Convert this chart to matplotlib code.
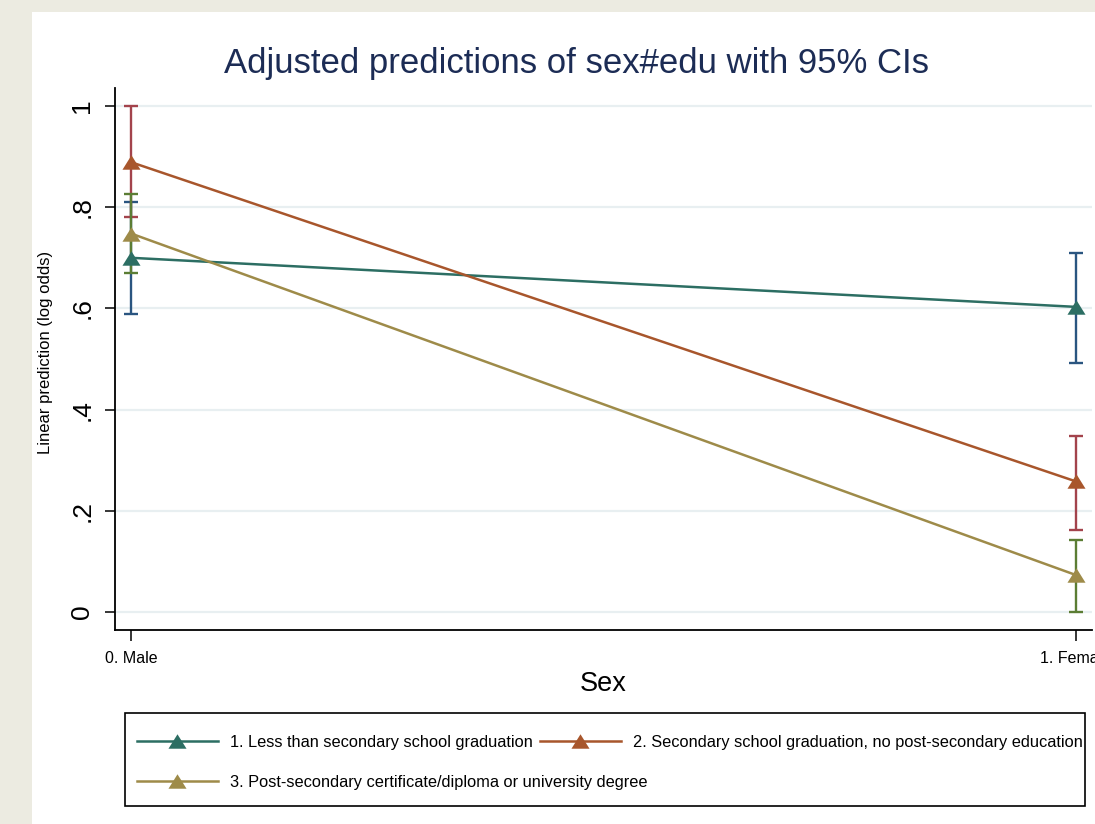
import numpy as np
import matplotlib
import matplotlib.pyplot as plt
from matplotlib.lines import Line2D
from matplotlib.patches import Rectangle

matplotlib.use('Agg')
plt.rcParams['font.family'] = ['Liberation Sans', 'DejaVu Sans']

# data
sex_labels = ['0. Male', '1. Female']
edu_labels = [
    '1. Less than secondary school graduation',
    '2. Secondary school graduation, no post-secondary education',
    '3. Post-secondary certificate/diploma or university degree',
]
pred = [
    [0.70, 0.603],   # edu 1
    [0.889, 0.258],  # edu 2
    [0.748, 0.073],  # edu 3
]
ci_low = [
    [0.589, 0.492],
    [0.780, 0.162],
    [0.670, 0.000],
]
ci_high = [
    [0.810, 0.709],
    [1.000, 0.348],
    [0.826, 0.142],
]
yticks = [0, 0.2, 0.4, 0.6, 0.8, 1.0]
ytick_labels = ['0', '.2', '.4', '.6', '.8', '1']

line_colors = ['#2c6e63', '#a8562c', '#9e8b49']
ci_colors = ['#2a5580', '#a3434c', '#5b7d34']

# squat triangle like stata's
tri = [(-1, -0.8), (1, -0.8), (0, 0.8), (-1, -0.8)]

W, H = 1095, 824
fig = plt.figure(figsize=(W / 100, H / 100), dpi=100)
fig.patch.set_facecolor('#ecebe1')
fig.add_artist(Rectangle((32 / W, 0), 1, 1 - 12 / H, transform=fig.transFigure,
                         facecolor='white', edgecolor='none', zorder=0))


def px(x0, y0, x1, y1):
    return [x0 / W, 1 - y1 / H, (x1 - x0) / W, (y1 - y0) / H]


ax = fig.add_axes(px(115, 88, 1092, 630))
ax.set_facecolor('none')
x = np.arange(len(sex_labels))

for i in range(3):
    lo = np.array(ci_low[i])
    hi = np.array(ci_high[i])
    mid = (lo + hi) / 2
    ax.errorbar(x, mid, yerr=[mid - lo, hi - mid], fmt='none', ecolor=ci_colors[i],
                elinewidth=1.7, capsize=5.2, capthick=1.7, zorder=3)
for i in range(3):
    ax.plot(x, pred[i], color=line_colors[i], lw=1.8, marker=tri, ms=13,
            markeredgewidth=0, zorder=4)

ax.set_xlim(-16 / 945, (1092 - 131) / 945)
ax.set_ylim(-18 / 506, 524 / 506)
ax.set_yticks(yticks)
ax.set_yticklabels(ytick_labels, rotation=90, va='center', fontsize=19)
ax.set_xticks(x)
ax.set_xticklabels(sex_labels, fontsize=11.5)
ax.tick_params(axis='y', length=7, width=1.1, pad=8)
ax.tick_params(axis='x', length=8, width=1.1, pad=7)
ax.grid(axis='y', color='#e8eff1', lw=1.6, zorder=1)
ax.set_axisbelow(True)
for s in ['top', 'right']:
    ax.spines[s].set_visible(False)
for s in ['left', 'bottom']:
    ax.spines[s].set_linewidth(1.3)
    ax.spines[s].set_color('black')

ax.set_xlabel('Sex', fontsize=19.5, labelpad=4)
fig.text(46 / W, 1 - 352 / H, 'Linear prediction (log odds)', rotation=90,
         ha='center', va='center', fontsize=12)
fig.text(577 / W, 1 - 63 / H, 'Adjusted predictions of sex#edu with 95% CIs',
         ha='center', va='center', fontsize=25, color='#1c2c55')

# legend box
fig.add_artist(Rectangle((125 / W, 1 - 806 / H), (1085 - 125) / W, (806 - 713) / H,
                         transform=fig.transFigure, facecolor='white',
                         edgecolor='black', lw=1.2))
entries = [(0, 137, 741), (1, 540, 741), (2, 137, 781)]
for i, lx, ly in entries:
    fig.add_artist(Line2D([lx / W, (lx + 81) / W], [1 - ly / H, 1 - ly / H],
                          transform=fig.transFigure, color=line_colors[i], lw=1.8))
    fig.add_artist(Line2D([(lx + 40) / W], [1 - ly / H], transform=fig.transFigure,
                          color=line_colors[i], marker=tri, ms=13, markeredgewidth=0))
    fig.text((lx + 93) / W, 1 - (ly + 1) / H, edu_labels[i], ha='left', va='center',
             fontsize=11.75)

fig.savefig('out.png', dpi=100)
